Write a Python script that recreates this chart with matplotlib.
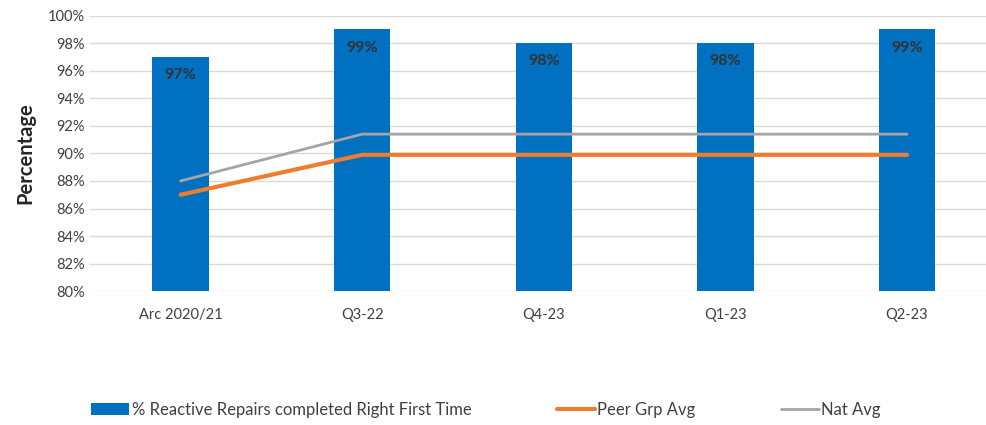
import matplotlib.pyplot as plt
import numpy as np

# quarterly repair figures (%)
periods = ['Arc 2020/21', 'Q3-22', 'Q4-23', 'Q1-23', 'Q2-23']
rft_pct = [97, 99, 98, 98, 99]
peer_avg = [87, 89.9, 89.9, 89.9, 89.9]
nat_avg = [88, 91.4, 91.4, 91.4, 91.4]

plt.rcParams['font.family'] = ['Lato', 'DejaVu Sans']

fig = plt.figure(figsize=(9.87, 4.25), dpi=100)
ax = fig.add_axes([0.091, 0.315, 0.92, 0.648])

x = np.arange(len(periods))
bars = ax.bar(x, rft_pct, width=0.31, color='#0070C0', zorder=2,
              label='% Reactive Repairs completed Right First Time')
peer_line, = ax.plot(x, peer_avg, color='#ED7D31', lw=3, solid_capstyle='round',
                     zorder=3, label='Peer Grp Avg')
nat_line, = ax.plot(x, nat_avg, color='#A5A5A5', lw=2, solid_capstyle='round',
                    zorder=3, label='Nat Avg')

for xi, v in zip(x, rft_pct):
    ax.annotate(f'{v}%', (xi, v), xytext=(0, -13), textcoords='offset points',
                ha='center', va='center', fontsize=11.5, fontweight='bold',
                color='#333333', zorder=4)

ax.set_ylim(80, 100)
ax.set_xlim(-0.5, len(periods) - 0.5)
ax.set_yticks(np.arange(80, 101, 2))
ax.set_yticklabels([f'{t}%' for t in range(80, 101, 2)])
ax.set_xticks(x)
ax.set_xticklabels(periods)
ax.tick_params(length=0, labelsize=10.5, colors='#404040')
ax.tick_params(axis='x', pad=12)
ax.grid(axis='y', color='#D9D9D9', lw=1, zorder=0)
for s in ax.spines.values():
    s.set_visible(False)

ax.set_ylabel('Percentage', fontsize=14.5, fontweight='bold', color='#262626',
              labelpad=9)

fig.legend(handles=[bars, peer_line, nat_line], loc='center left',
           bbox_to_anchor=(0.077, 0.035), ncol=3, frameon=False,
           fontsize=12, handlelength=2.3, handletextpad=0.15,
           columnspacing=5.1, labelcolor='#404040')

fig.savefig('out.png')
